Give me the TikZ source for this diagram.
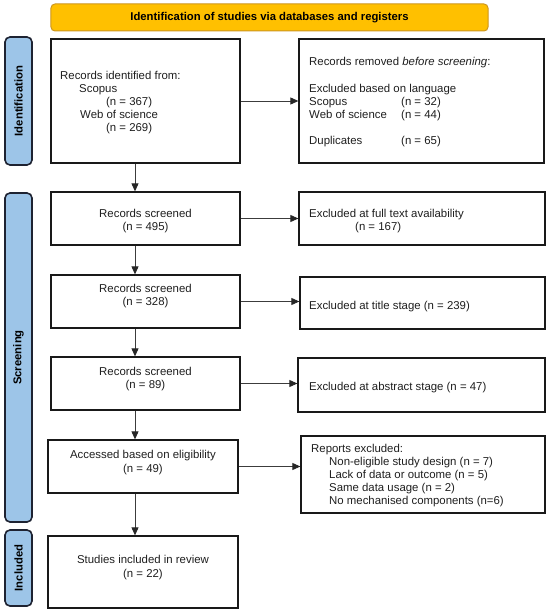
\documentclass[tikz,border=0pt]{standalone}
\usepackage{fontspec}
\setmainfont{Liberation Sans}
\usetikzlibrary{arrows.meta}
\definecolor{bannerfill}{RGB}{255,192,0}
\definecolor{bannerdraw}{RGB}{205,150,30}
\definecolor{sidefill}{RGB}{157,197,232}
\definecolor{sidedraw}{RGB}{30,35,50}
\definecolor{boxdraw}{RGB}{25,25,25}
\definecolor{arrcol}{RGB}{60,60,60}
\begin{document}
\begin{tikzpicture}[x=1bp,y=-1bp,
  box/.style={draw=boxdraw,line width=1.3bp,inner sep=0pt,fill=white},
  side/.style={draw=sidedraw,fill=sidefill,line width=1.6bp,rounded corners=5bp,inner sep=0pt,
    font=\fontsize{11.3bp}{13bp}\selectfont\bfseries,rotate=90},
  banner/.style={draw=bannerdraw,fill=bannerfill,line width=1bp,rounded corners=4bp,inner sep=0pt,
    font=\fontsize{11.3bp}{13bp}\selectfont\bfseries},
  txt/.style={inner sep=0pt,font=\fontsize{11.4bp}{13bp}\selectfont,text=black!88},
  tl/.style={txt,anchor=base west},
  tc/.style={txt,anchor=base},
  arr/.style={draw=arrcol,line width=0.9bp,-{Triangle[length=8bp,width=7bp,color=black!85]}}
]
\useasboundingbox (0,0) rectangle (550,613);
\fill[white] (0,0) rectangle (550,613);

% banner and side labels
\node[banner,minimum width=437bp,minimum height=27bp] (ban) at (269.5,17.5) {Identification of studies via databases and registers};
\node[side,minimum width=128bp,minimum height=27bp] (L1) at (18.5,101) {Identification};
\node[side,minimum width=329bp,minimum height=27bp] (L2) at (18.5,357.5) {Screening};
\node[side,minimum width=76bp,minimum height=27bp] (L3) at (18.5,568) {Included};

% boxes
\node[box,minimum width=189bp,minimum height=124bp] (A) at (145.5,101) {};
\node[box,minimum width=245bp,minimum height=124bp] (B) at (421.5,101) {};
\node[box,minimum width=189bp,minimum height=53bp] (C) at (145.5,218.5) {};
\node[box,minimum width=246bp,minimum height=53bp] (D) at (422,218.5) {};
\node[box,minimum width=189bp,minimum height=53bp] (E) at (145.5,301.5) {};
\node[box,minimum width=245bp,minimum height=52bp] (F) at (422.5,303) {};
\node[box,minimum width=189bp,minimum height=53bp] (G) at (145.5,383.5) {};
\node[box,minimum width=247bp,minimum height=54bp] (H) at (421.5,385) {};
\node[box,minimum width=190bp,minimum height=53bp] (I) at (143,466.5) {};
\node[box,minimum width=244bp,minimum height=77bp] (J) at (423,474.5) {};
\node[box,minimum width=190bp,minimum height=72bp] (K) at (143,572) {};

% texts box A
\node[tl] (a1) at (60,80) {Records identified from:};
\node[tl] (a2) at (79,93) {Scopus};
\node[tl] (a3) at (106,106) {(n = 367)};
\node[tl] (a4) at (80,119) {Web of science};
\node[tl] (a5) at (106,132) {(n = 269)};
% box B
\node[tl] (b1) at (309,66) {Records removed \textit{before screening}:};
\node[tl] (b2) at (309,93) {Excluded based on language};
\node[tl] (b3) at (309,106) {Scopus};
\node[tl] (b4) at (401,106) {(n = 32)};
\node[tl] (b5) at (309,119) {Web of science};
\node[tl] (b6) at (401,119) {(n = 44)};
\node[tl] (b7) at (309,145) {Duplicates};
\node[tl] (b8) at (401,145) {(n = 65)};
% box C, D
\node[tc] (c1) at (145.5,217) {Records screened};
\node[tc] (c2) at (145.5,230) {(n = 495)};
\node[tl] (d1) at (309,217) {Excluded at full text availability};
\node[tl] (d2) at (355,230) {(n = 167)};
% box E, F
\node[tc] (e1) at (145.5,292) {Records screened};
\node[tc] (e2) at (145.5,305) {(n = 328)};
\node[tl] (f1) at (309,309) {Excluded at title stage (n = 239)};
% box G, H
\node[tc] (g1) at (145.5,375) {Records screened};
\node[tc] (g2) at (145.5,388) {(n = 89)};
\node[tl] (h1) at (309,390) {Excluded at abstract stage (n = 47)};
% box I, J
\node[tc] (i1) at (143,458) {Accessed based on eligibility};
\node[tc] (i2) at (143,472) {(n = 49)};
\node[tl] (j1) at (311,452) {Reports excluded:};
\node[tl] (j2) at (329,465) {Non-eligible study design (n = 7)};
\node[tl] (j3) at (329,478) {Lack of data or outcome (n = 5)};
\node[tl] (j4) at (329,491) {Same data usage (n = 2)};
\node[tl] (j5) at (329,504) {No mechanised components (n=6)};
% box K
\node[tc] (k1) at (143,563) {Studies included in review};
\node[tc] (k2) at (143,577) {(n = 22)};

% connectors
\coordinate (ax) at (135,0);
\draw[arr] (A.east) -- (A.east -| B.west);
\draw[arr] (C.east) -- (C.east -| D.west);
\draw[arr] (E.east) -- (E.east -| F.west);
\draw[arr] (G.east) -- (G.east -| H.west);
\draw[arr] (I.east) -- (I.east -| J.west);
\draw[arr] (A.south -| ax) -- (C.north -| ax);
\draw[arr] (C.south -| ax) -- (E.north -| ax);
\draw[arr] (E.south -| ax) -- (G.north -| ax);
\draw[arr] (G.south -| ax) -- (I.north -| ax);
\draw[arr] (I.south -| ax) -- (K.north -| ax);
\end{tikzpicture}
\end{document}
